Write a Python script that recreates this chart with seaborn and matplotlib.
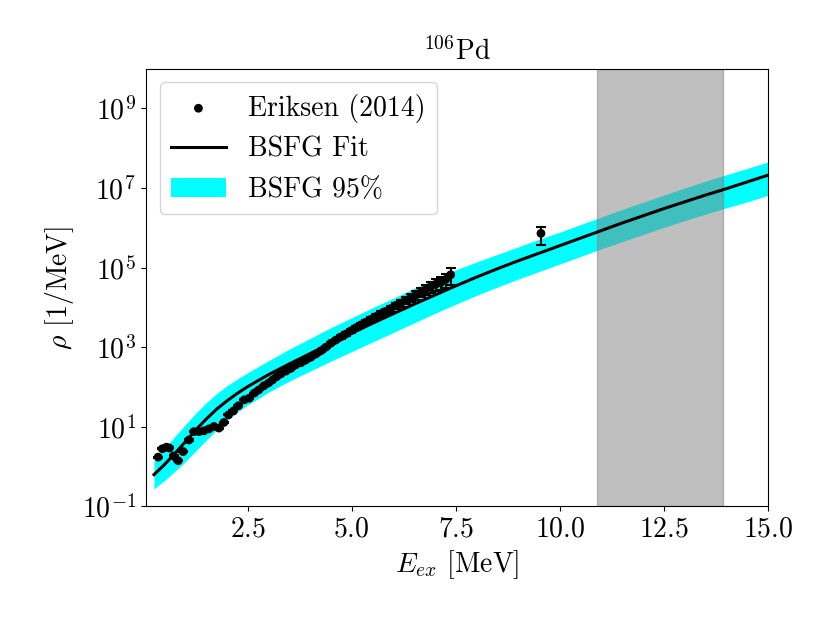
import numpy as np
import pandas as pd
import seaborn as sns
import matplotlib
matplotlib.use("Agg")
import matplotlib.pyplot as plt
from matplotlib.ticker import FixedLocator, NullLocator, LogFormatterSciNotation

# ---- data ----
# Eriksen (2014) level density points, E in MeV, log10(rho)
E_data = [0.35, 0.45, 0.55, 0.62, 0.72, 0.83, 0.95, 1.09, 1.21, 1.33, 1.45, 1.57,
          1.69, 1.81, 1.93, 2.04, 2.16, 2.28, 2.42, 2.54, 2.66, 2.77, 2.89, 3.00,
          3.10, 3.20, 3.30, 3.42, 3.54, 3.66, 3.78, 3.90, 4.02, 4.14, 4.26, 4.38,
          4.50, 4.62, 4.74, 4.86, 4.98, 5.10, 5.22, 5.34, 5.46, 5.58, 5.70, 5.82,
          5.94, 6.06, 6.18, 6.30, 6.42, 6.54, 6.66, 6.78, 6.90, 7.02, 7.14, 7.26,
          7.38, 9.55]
log_rho_data = [0.24, 0.45, 0.49, 0.47, 0.27, 0.15, 0.38, 0.67, 0.88, 0.88, 0.90, 0.95,
                1.01, 0.97, 1.11, 1.30, 1.40, 1.53, 1.68, 1.72, 1.85, 1.93, 2.03, 2.10,
                2.18, 2.26, 2.33, 2.40, 2.47, 2.56, 2.61, 2.68, 2.75, 2.83, 2.91, 3.00,
                3.10, 3.18, 3.26, 3.33, 3.41, 3.49, 3.56, 3.63, 3.70, 3.77, 3.84, 3.90,
                3.97, 4.05, 4.11, 4.18, 4.24, 4.31, 4.38, 4.45, 4.52, 4.58, 4.62, 4.70,
                4.82, 5.86]
rel_err_data = [0.03] * 30 + [0.05] * 8 + [0.10, 0.10, 0.11, 0.11, 0.12, 0.12, 0.13,
                                           0.14, 0.15, 0.16, 0.17, 0.18, 0.19, 0.20,
                                           0.22, 0.24, 0.26, 0.28, 0.30, 0.33, 0.36,
                                           0.40, 0.45, 0.48]

# BSFG fit and 95% band, log10(rho)
E_fit = [0.25, 0.5, 0.75, 1.0, 1.25, 1.5, 1.75, 2.0, 2.25, 2.5, 2.75, 3.0, 3.5,
         4.0, 4.5, 5.0, 5.5, 6.0, 6.5, 7.0, 7.5, 8.0, 8.5, 9.0, 9.5, 10.0, 10.5,
         11.0, 11.5, 12.0, 12.5, 13.0, 13.5, 14.0, 14.5, 15.0]
log_rho_fit = [-0.20, 0.05, 0.33, 0.62, 0.92, 1.19, 1.44, 1.65, 1.84, 2.01, 2.16, 2.31,
               2.58, 2.84, 3.10, 3.35, 3.60, 3.84, 4.08, 4.31, 4.54, 4.76, 4.97, 5.17,
               5.36, 5.55, 5.74, 5.93, 6.12, 6.30, 6.48, 6.65, 6.82, 6.98, 7.15, 7.32]
log_rho_hi = [0.15, 0.45, 0.76, 1.05, 1.34, 1.60, 1.83, 2.03, 2.20, 2.36, 2.51, 2.66,
              2.95, 3.22, 3.49, 3.74, 3.99, 4.23, 4.48, 4.71, 4.94, 5.14, 5.33, 5.52,
              5.71, 5.89, 6.08, 6.27, 6.46, 6.64, 6.82, 7.00, 7.17, 7.33, 7.49, 7.65]
log_rho_lo = [-0.56, -0.35, -0.12, 0.12, 0.39, 0.66, 0.92, 1.16, 1.37, 1.55, 1.71, 1.87,
              2.15, 2.40, 2.65, 2.89, 3.13, 3.37, 3.61, 3.85, 4.08, 4.30, 4.51, 4.71,
              4.90, 5.09, 5.28, 5.47, 5.65, 5.83, 6.01, 6.18, 6.34, 6.50, 6.65, 6.81]

span_lo, span_hi = 10.89, 13.92

df_data = pd.DataFrame({"E": E_data, "rho": np.power(10.0, log_rho_data)})
df_data["err"] = df_data["rho"] * np.array(rel_err_data)
df_fit = pd.DataFrame({"E": E_fit, "rho": np.power(10.0, log_rho_fit),
                       "hi": np.power(10.0, log_rho_hi), "lo": np.power(10.0, log_rho_lo)})

# ---- style ----
plt.rcParams["font.family"] = "serif"
plt.rcParams["font.serif"] = ["cmr10", "DejaVu Serif"]
plt.rcParams["mathtext.fontset"] = "cm"
plt.rcParams["axes.formatter.use_mathtext"] = True
plt.rcParams["font.size"] = 20

fig, ax = plt.subplots(figsize=(8.3, 6.23), dpi=100)
fig.subplots_adjust(left=0.1755, right=0.925, bottom=0.187, top=0.890)
ax.set_yscale("log")

ax.fill_between(df_fit["E"], df_fit["lo"], df_fit["hi"], color="cyan", lw=0,
                label="BSFG 95%", zorder=1)
ax.axvspan(span_lo, span_hi, color="grey", alpha=0.5, zorder=2)
sns.lineplot(data=df_fit, x="E", y="rho", color="black", lw=2.2, ax=ax,
             label="BSFG Fit", zorder=3)
ax.errorbar(df_data["E"], df_data["rho"], yerr=df_data["err"], fmt="none",
            ecolor="black", elinewidth=1.5, capsize=3.5, capthick=1.5, zorder=4)
sns.scatterplot(data=df_data, x="E", y="rho", color="black", s=40, edgecolor="none",
                ax=ax, label="Eriksen (2014)", zorder=5)

ax.set_xlim(0.05, 15)
ax.set_ylim(1e-1, 1e10)
ax.yaxis.set_major_locator(FixedLocator([1e-1, 1e1, 1e3, 1e5, 1e7, 1e9]))
ax.yaxis.set_major_formatter(LogFormatterSciNotation())
ax.yaxis.set_minor_locator(NullLocator())
ax.set_xticks([2.5, 5.0, 7.5, 10.0, 12.5, 15.0])

ax.set_title(r"$^{106}$Pd", fontsize=20)
ax.set_xlabel(r"$E_{ex}$ [MeV]", fontsize=20)
ax.set_ylabel(r"$\rho$ [1/MeV]", fontsize=20)
ax.tick_params(labelsize=20)

handles, labels = ax.get_legend_handles_labels()
order = [labels.index(l) for l in ["Eriksen (2014)", "BSFG Fit", "BSFG 95%"]]
ax.legend([handles[i] for i in order], [labels[i] for i in order],
          loc="upper left", fontsize=20)

fig.savefig("out.png", dpi=100)
